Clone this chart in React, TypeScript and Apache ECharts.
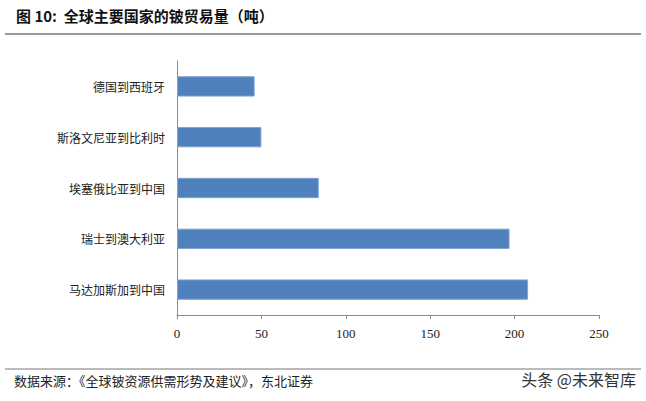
import React, { useEffect, useRef } from "react";
import * as echarts from "echarts";

const categories = ["马达加斯加到中国", "瑞士到澳大利亚", "埃塞俄比亚到中国", "斯洛文尼亚到比利时", "德国到西班牙"];
const values = [208, 197, 84, 50, 46];
const titleText = "图 10:  全球主要国家的铍贸易量（吨）";
const sourceText = "数据来源：《全球铍资源供需形势及建议》，东北证券";
const watermarkText = "头条 @未来智库";

export default function App() {
  const ref = useRef<HTMLDivElement>(null);
  useEffect(() => {
    if (!ref.current) return;
    const chart = echarts.init(ref.current, null, { renderer: "svg" });
    chart.setOption({
      animation: false,
      backgroundColor: "#ffffff",
      grid: { left: 177, right: 47, top: 61, bottom: 86 },
      xAxis: {
        type: "value",
        min: 0,
        max: 250,
        interval: 50,
        axisLine: { show: true, lineStyle: { color: "#8c8c8c", width: 1 } },
        axisTick: { show: true, length: 4, lineStyle: { color: "#8c8c8c" } },
        splitLine: { show: false },
        axisLabel: { color: "#222", fontSize: 13, fontFamily: "Liberation Serif", margin: 12 },
      },
      yAxis: {
        type: "category",
        data: categories,
        axisLine: { show: true, lineStyle: { color: "#8c8c8c", width: 1 } },
        axisTick: { show: false },
        axisLabel: { color: "#222", fontSize: 12, fontFamily: "Noto Sans CJK SC", margin: 12 },
      },
      series: [
        {
          type: "bar",
          data: values,
          barWidth: "40%",
          itemStyle: { color: "#4F81BD", borderColor: "#7FA3D1", borderWidth: 1 },
        },
      ],
      graphic: [
        {
          type: "text",
          left: 16,
          top: 8,
          style: { text: titleText, font: "bold 15px 'Noto Sans CJK SC'", fill: "#111" },
        },
        {
          type: "line",
          shape: { x1: 5, y1: 34, x2: 641, y2: 34 },
          style: { stroke: "#777", lineWidth: 1.5 },
        },
        {
          type: "line",
          shape: { x1: 5, y1: 369, x2: 641, y2: 369 },
          style: { stroke: "#777", lineWidth: 1 },
        },
        {
          type: "text",
          left: 14,
          top: 374,
          style: { text: sourceText, font: "13px 'Noto Sans CJK SC'", fill: "#222" },
        },
        {
          type: "text",
          right: 10,
          top: 371,
          style: { text: watermarkText, font: "16px 'Noto Sans CJK SC'", fill: "#333" },
        },
      ],
    });
    return () => chart.dispose();
  }, []);
  return <div ref={ref} style={{ position: "fixed", left: 0, top: 0, width: 646, height: 401 }} />;
}
